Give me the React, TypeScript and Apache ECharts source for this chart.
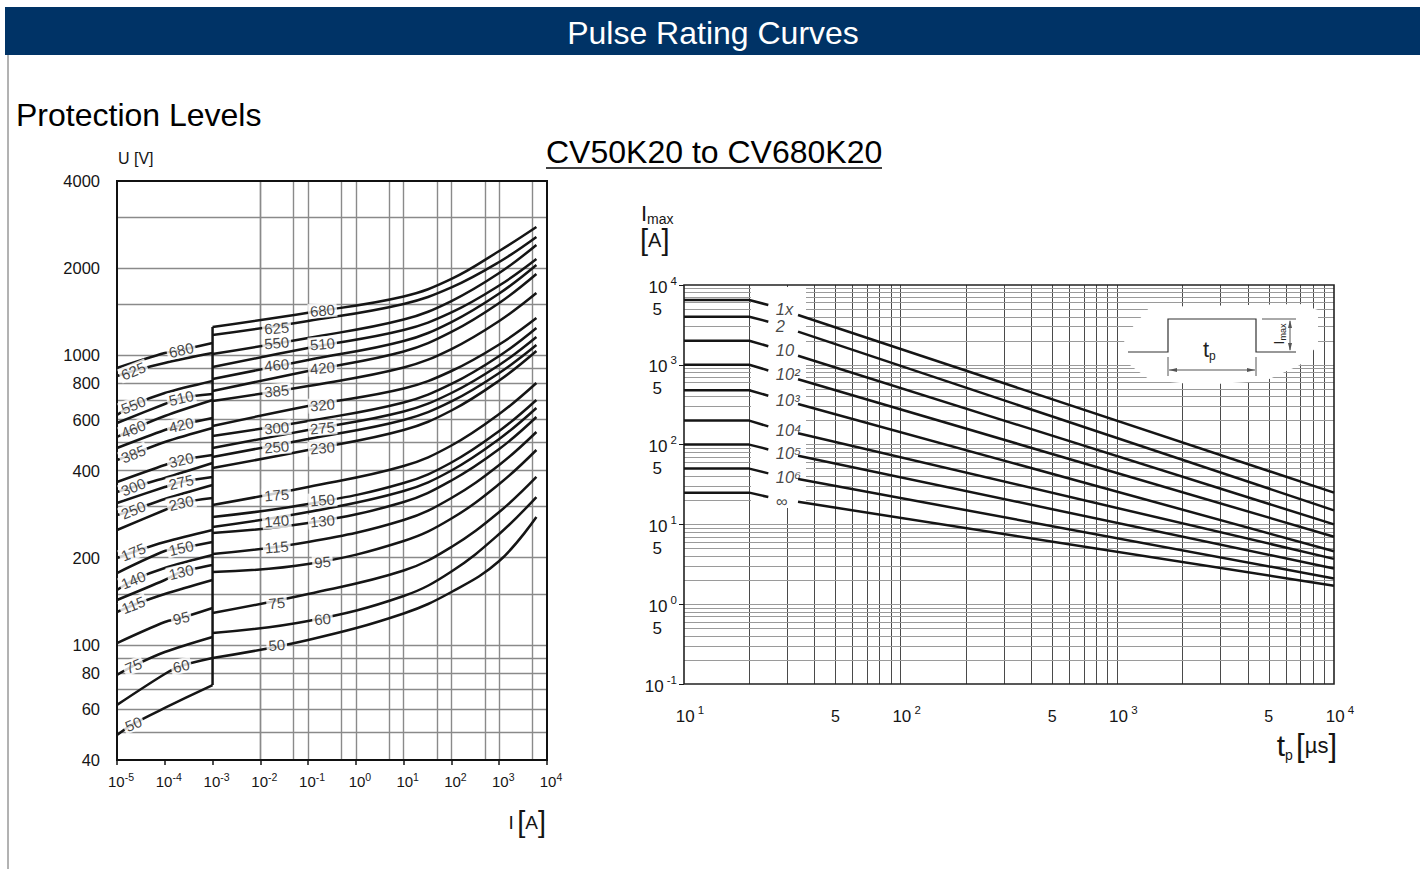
import React, { useEffect, useRef } from "react";
import * as echarts from "echarts";

const FONT = "'Liberation Sans', Arial, sans-serif";
const INK = "#151515";

// ---------------- Left chart: protection levels ----------------
const currentExponents = ["-5", "-4", "-3", "-2", "-1", "0", "1", "2", "3", "4"];
const currentGridLines = [5e-5, 1e-4, 5e-4, 1e-3, 5e-3, 1e-2, 5e-2, 1e-1, 5e-1, 1, 5, 10, 50, 100, 500, 1000, 5000];
const voltageGridLines = [50, 60, 70, 80, 90, 100, 150, 200, 300, 400, 500, 600, 700, 800, 900, 1000, 1500, 2000, 3000];
const voltageTickLabels = [40, 60, 80, 100, 200, 400, 600, 800, 1000, 2000, 4000];

const varistorTypes = ["680", "625", "550", "510", "460", "420", "385", "320", "300", "275", "250", "230", "175", "150", "140", "130", "115", "95", "75", "60", "50"];

// leakage region (10 µA .. 1 mA)
const leakCurrents = [1e-5, 1e-4, 1e-3];
const leakV_10uA = [904, 848, 622, 583.6, 522.1, 478.4, 434.8, 365.0, 337.1, 308.8, 280.7, 249.2, 199.4, 177.0, 154.6, 142.8, 129.8, 101.4, 78.7, 62.0, 48.8];
const leakV_100uA = [1018, 941, 740.9, 678.8, 617.0, 552.0, 501.8, 417.9, 376.8, 350.8, 318.8, 292.1, 226.5, 210.8, 184.2, 167.4, 149.8, 119.9, 94.4, 79.3, 60.5];
const leakV_1mA = [1103, 1018, 815.1, 735.0, 700.8, 607.3, 560.9, 452.5, 424.6, 379.9, 356.4, 321.4, 249.2, 226.5, 204.2, 188.6, 167.4, 134.0, 106.4, 90.0, 72.6];
const leakLabelCurrent = [2.2e-4, 2.2e-5, 2.2e-5, 2.2e-4, 2.2e-5, 2.2e-4, 2.2e-5, 2.2e-4, 2.2e-5, 2.2e-4, 2.2e-5, 2.2e-4, 2.2e-5, 2.2e-4, 2.2e-5, 2.2e-4, 2.2e-5, 2.2e-4, 2.2e-5, 2.2e-4, 2.2e-5];
const leakLabelVoltage = [1043, 882.6, 673.5, 712, 556.4, 574.4, 456.1, 434.8, 350.8, 365, 292.1, 308.8, 209.2, 215.9, 167.4, 178.4, 137.2, 123.8, 84.5, 84.5, 53.3];

// pulse region (1 mA .. 6 kA)
const pulseCurrents = [1e-3, 0.1, 10, 100, 1000, 6000];
const pulseV_1mA = [1252, 1175, 1010, 911.1, 828.2, 752.8, 695.2, 569.9, 526.3, 478.4, 445.3, 408.0, 304.0, 276.3, 255.2, 243.3, 205.9, 178.4, 128.8, 109.8, 90.0];
const pulseV_100mA = [1403, 1314, 1148, 1060, 963.3, 882.6, 783.3, 668.1, 593.0, 552.0, 513.9, 470.8, 350.8, 306.4, 287.5, 263.4, 226.5, 190.1, 149.8, 120.8, 103.9];
const pulseV_10A = [1596, 1504, 1329, 1223, 1120, 1031, 907.5, 767.9, 687.0, 639.5, 597.7, 552.0, 414.6, 362.1, 339.8, 311.3, 269.8, 228.3, 180.5, 147.4, 128.3];
const pulseV_100A = [1835, 1715, 1540, 1406, 1303, 1204, 1051, 882.6, 795.9, 740.9, 692.5, 644.6, 488.0, 426.3, 400.0, 369.4, 321.4, 273.0, 217.7, 179.1, 152.2];
const pulseV_1kA = [2292, 2100, 1924, 1742, 1635, 1516, 1314, 1090, 994.4, 925.7, 868.7, 818.3, 626.9, 547.7, 513.9, 474.6, 417.9, 359.2, 287.5, 241.4, 194.7];
const pulseV_6kA = [2774, 2562, 2404, 2151, 2051, 1909, 1641, 1345, 1243, 1157, 1085, 1035, 802.2, 700.8, 657.6, 612.2, 543.3, 470.8, 379.9, 323.9, 276.3];
const pulseLabelCurrent = [0.2, 0.022, 0.022, 0.2, 0.022, 0.2, 0.022, 0.2, 0.022, 0.2, 0.022, 0.2, 0.022, 0.2, 0.022, 0.2, 0.022, 0.2, 0.022, 0.2, 0.022];
const pulseLabelVoltage = [1430, 1242, 1103, 1094, 925.7, 904, 752.8, 673.5, 560.9, 560.9, 482.2, 478.4, 329.1, 316.3, 267.7, 267.7, 217.7, 193.2, 139.4, 122.8, 99.8];

const stepCurrent = 1e-3;
const stepVoltages = [72.6, 1252];

// ---------------- Right chart: pulse rating ----------------
const timeExponents = ["1", "2", "3", "4"];
const imaxExponents = ["-1", "0", "1", "2", "3", "4"];
const timeFiveTicks = [50, 500, 5000];
const imaxFiveTicks = [0.5, 5, 50, 500, 5000];
const gridMultipliers = [1, 2, 3, 4, 5, 6, 7, 8, 9];
const timeDecades = [10, 100, 1000];
const imaxDecades = [0.1, 1, 10, 100, 1000];

const repetitions = ["1x", "2", "10", "10²", "10³", "10⁴", "10⁵", "10⁶", "∞"];
const flatTimes = [10, 20, 24.5];
const slopeTimes = [33.6, 10000];
const imaxFlat = [6500, 4000, 2000, 1000, 480, 200, 100, 50, 25];
const imaxAt24us = [5610, 3470, 1710, 850, 410, 169, 87, 43.6, 22];
const imaxAt34us = [4210, 2600, 1300, 658, 323, 139, 72.6, 37.1, 19.2];
const imaxAt10ms = [25, 15, 10, 7, 4.6, 3.7, 2.8, 2.1, 1.7];

function buildOption(): any {
  const leftRich = {
    b: { fontSize: 15, fontFamily: FONT, color: INK, lineHeight: 18, verticalAlign: "bottom" },
    e: { fontSize: 10.5, fontFamily: FONT, color: INK, lineHeight: 11, verticalAlign: "top" },
  };
  const rightRich = {
    b: { fontSize: 17, fontFamily: FONT, color: INK, lineHeight: 21, verticalAlign: "bottom" },
    e: { fontSize: 11.5, fontFamily: FONT, color: INK, lineHeight: 12, verticalAlign: "top" },
  };

  const series: any[] = [];

  // ---- left grid lines + y labels ----
  const leftMarks: any[] = [];
  currentGridLines.forEach((v) => leftMarks.push({ xAxis: v }));
  voltageGridLines.forEach((v) => leftMarks.push({ yAxis: v }));
  voltageTickLabels.forEach((v) =>
    leftMarks.push({
      yAxis: v,
      lineStyle: { color: "rgba(0,0,0,0)" },
      label: { show: true, position: "start", distance: 17, formatter: String(v), fontSize: 16.5, fontFamily: FONT, color: INK },
    })
  );
  series.push({
    type: "line",
    xAxisIndex: 0,
    yAxisIndex: 0,
    data: [[1, 100]],
    symbol: "none",
    lineStyle: { opacity: 0 },
    silent: true,
    z: 1,
    markLine: {
      silent: true,
      animation: false,
      symbol: ["none", "none"],
      label: { show: false },
      emphasis: { disabled: true },
      lineStyle: { color: "#8a8a8a", width: 1.4, type: "solid" },
      data: leftMarks,
    },
  });

  // ---- left curves ----
  const curveStyle = { color: INK, width: 2.5 };
  varistorTypes.forEach((name, i) => {
    const leak = [
      [leakCurrents[0], leakV_10uA[i]],
      [leakCurrents[1], leakV_100uA[i]],
      [leakCurrents[2], leakV_1mA[i]],
      [leakLabelCurrent[i], leakLabelVoltage[i]],
    ].sort((a, b) => a[0] - b[0]);
    const pulse = [
      [pulseCurrents[0], pulseV_1mA[i]],
      [pulseCurrents[1], pulseV_100mA[i]],
      [pulseCurrents[2], pulseV_10A[i]],
      [pulseCurrents[3], pulseV_100A[i]],
      [pulseCurrents[4], pulseV_1kA[i]],
      [pulseCurrents[5], pulseV_6kA[i]],
    ];
    [leak, pulse].forEach((d, k) =>
      series.push({
        type: "line",
        name: name + (k ? " pulse" : " leak"),
        xAxisIndex: 0,
        yAxisIndex: 0,
        data: d,
        smooth: k ? 0.4 : 0.3,
        showSymbol: false,
        symbol: "none",
        lineStyle: curveStyle,
        silent: true,
        z: 10,
      })
    );
  });
  series.push({
    type: "line",
    xAxisIndex: 0,
    yAxisIndex: 0,
    data: stepVoltages.map((v) => [stepCurrent, v]),
    showSymbol: false,
    symbol: "none",
    lineStyle: curveStyle,
    silent: true,
    z: 10,
  });

  const labelData: any[] = [];
  varistorTypes.forEach((name, i) => {
    labelData.push({
      value: [leakLabelCurrent[i], leakLabelVoltage[i]],
      label: { formatter: name, rotate: leakLabelCurrent[i] < 1e-4 ? 22 : 13 },
    });
    labelData.push({
      value: [pulseLabelCurrent[i], pulseLabelVoltage[i]],
      label: { formatter: name, rotate: 5 },
    });
  });
  series.push({
    type: "scatter",
    xAxisIndex: 0,
    yAxisIndex: 0,
    data: labelData,
    symbolSize: 1,
    itemStyle: { color: "rgba(0,0,0,0)" },
    silent: true,
    z: 12,
    label: {
      show: true,
      position: "inside",
      fontSize: 15,
      fontFamily: FONT,
      color: INK,
      backgroundColor: "#fff",
      padding: [0, 2],
    },
  });

  // ---- right grid lines ----
  const rightMarks: any[] = [];
  timeDecades.forEach((d) =>
    gridMultipliers.forEach((m) => {
      if (d * m > 10) rightMarks.push({ xAxis: d * m, lineStyle: { color: "#4a4a4a", width: 1 } });
    })
  );
  imaxDecades.forEach((d) =>
    gridMultipliers.forEach((m) => {
      if (d * m > 0.1) rightMarks.push({ yAxis: d * m, lineStyle: { color: "#9a9a9a", width: 1 } });
    })
  );
  imaxFiveTicks.forEach((v) =>
    rightMarks.push({
      yAxis: v,
      lineStyle: { color: "rgba(0,0,0,0)" },
      label: { show: true, position: "start", distance: 22, formatter: "5", fontSize: 17, fontFamily: FONT, color: INK, padding: [6, 0, 0, 0] },
    })
  );
  timeFiveTicks.forEach((v) =>
    rightMarks.push({
      xAxis: v,
      lineStyle: { color: "rgba(0,0,0,0)" },
      label: { show: true, position: "start", distance: 24, formatter: "5", fontSize: 16, fontFamily: FONT, color: INK, align: "center", verticalAlign: "top" },
    })
  );
  series.push({
    type: "line",
    xAxisIndex: 1,
    yAxisIndex: 1,
    data: [[100, 1]],
    symbol: "none",
    lineStyle: { opacity: 0 },
    silent: true,
    z: 1,
    markLine: {
      silent: true,
      animation: false,
      symbol: ["none", "none"],
      label: { show: false },
      emphasis: { disabled: true },
      lineStyle: { type: "solid" },
      data: rightMarks,
    },
  });

  repetitions.forEach((name, i) => {
    series.push({
      type: "line",
      name: name + " flat",
      xAxisIndex: 1,
      yAxisIndex: 1,
      data: [
        [flatTimes[0], imaxFlat[i]],
        [flatTimes[1], imaxFlat[i]],
        [flatTimes[2], imaxAt24us[i]],
      ],
      showSymbol: false,
      symbol: "none",
      lineStyle: curveStyle,
      silent: true,
      z: 10,
    });
    series.push({
      type: "line",
      name: name + " slope",
      xAxisIndex: 1,
      yAxisIndex: 1,
      data: [
        [slopeTimes[0], imaxAt34us[i]],
        [slopeTimes[1], imaxAt10ms[i]],
      ],
      showSymbol: false,
      symbol: "none",
      lineStyle: curveStyle,
      silent: true,
      z: 10,
    });
  });
  series.push({
    type: "scatter",
    xAxisIndex: 1,
    yAxisIndex: 1,
    data: repetitions.map((name, i) => ({ value: [flatTimes[2], imaxAt24us[i]], label: { formatter: name } })),
    symbolSize: 1,
    itemStyle: { color: "rgba(0,0,0,0)" },
    silent: true,
    z: 12,
    label: {
      show: true,
      position: "right",
      distance: 7,
      offset: [0, 4],
      fontSize: 16.5,
      fontStyle: "italic",
      fontFamily: FONT,
      color: INK,
    },
  });

  const hidden = { axisLine: { show: false }, splitLine: { show: false } };

  const graphic: any[] = [
    { type: "rect", shape: { x: 5, y: 7, width: 1415, height: 48 }, style: { fill: "#003366" }, z: 0 },
    { type: "text", x: 713, y: 33, style: { text: "Pulse Rating Curves", fill: "#fff", fontSize: 32, fontFamily: FONT, align: "center", verticalAlign: "middle" } },
    { type: "line", shape: { x1: 8, y1: 55, x2: 8, y2: 869 }, style: { stroke: "#666", lineWidth: 1 } },
    { type: "text", x: 16, y: 115, style: { text: "Protection Levels", fill: "#000", fontSize: 32, fontFamily: FONT, verticalAlign: "middle" } },
    { type: "text", x: 546, y: 152, style: { text: "CV50K20 to CV680K20", fill: "#000", fontSize: 32, fontFamily: FONT, verticalAlign: "middle" } },
    { type: "line", shape: { x1: 546, y1: 168, x2: 882, y2: 168 }, style: { stroke: "#000", lineWidth: 1.6 } },
    // left axis titles
    { type: "text", x: 118, y: 158, style: { text: "U [V]", fill: INK, fontSize: 16, fontFamily: FONT, verticalAlign: "middle" } },
    {
      type: "text", x: 546, y: 822,
      style: {
        text: "{s|I} {br|[}{s|A}{br|]}", align: "right", verticalAlign: "middle",
        rich: {
          s: { fontSize: 19, fontFamily: FONT, fill: INK, lineHeight: 30 },
          br: { fontSize: 29, fontFamily: FONT, fill: INK, lineHeight: 30, fontWeight: "lighter" },
        },
      },
    },
    // right axis titles
    {
      type: "text", x: 641, y: 213,
      style: {
        text: "{i|I}{m|max}", verticalAlign: "middle",
        rich: {
          i: { fontSize: 22, fontFamily: FONT, fill: INK, lineHeight: 26 },
          m: { fontSize: 14, fontFamily: FONT, fill: INK, lineHeight: 14, verticalAlign: "bottom" },
        },
      },
    },
    {
      type: "text", x: 640, y: 240,
      style: {
        text: "{br|[}{s|A}{br|]}", verticalAlign: "middle",
        rich: {
          s: { fontSize: 20, fontFamily: FONT, fill: INK, lineHeight: 30 },
          br: { fontSize: 29, fontFamily: FONT, fill: INK, lineHeight: 30, fontWeight: "lighter" },
        },
      },
    },
    {
      type: "text", x: 1337, y: 745,
      style: {
        text: "{t|t}{p|p} {br|[}{s|µs}{br|]}", align: "right", verticalAlign: "middle",
        rich: {
          t: { fontSize: 30, fontFamily: FONT, fill: INK, lineHeight: 34 },
          p: { fontSize: 14, fontFamily: FONT, fill: INK, lineHeight: 14, verticalAlign: "bottom" },
          s: { fontSize: 22, fontFamily: FONT, fill: INK, lineHeight: 34 },
          br: { fontSize: 31, fontFamily: FONT, fill: INK, lineHeight: 34, fontWeight: "lighter" },
        },
      },
    },
    // white areas in the right chart
    { type: "rect", shape: { x: 751, y: 287, width: 55, height: 221 }, style: { fill: "#fff" }, z: 7 },
    {
      type: "polygon",
      shape: { points: [[1150, 307], [1300, 304], [1318, 310], [1318, 345], [1300, 365], [1265, 381], [1200, 385], [1150, 380], [1126, 362], [1120, 350], [1130, 330]] },
      style: { fill: "#fff" },
      z: 7,
    },
    // pulse inset
    { type: "polyline", shape: { points: [[1128, 352], [1168, 352], [1168, 319], [1256, 319], [1256, 352], [1296, 352]] }, style: { stroke: "#333", lineWidth: 1.2, fill: null }, z: 8 },
    { type: "line", shape: { x1: 1262, y1: 319, x2: 1296, y2: 319 }, style: { stroke: "#555", lineWidth: 1 }, z: 8 },
    { type: "line", shape: { x1: 1290, y1: 321, x2: 1290, y2: 350 }, style: { stroke: "#555", lineWidth: 1 }, z: 8 },
    { type: "polygon", shape: { points: [[1290, 320], [1288, 328], [1292, 328]] }, style: { fill: "#555" }, z: 8 },
    { type: "polygon", shape: { points: [[1290, 351], [1288, 343], [1292, 343]] }, style: { fill: "#555" }, z: 8 },
    { type: "line", shape: { x1: 1168, y1: 357, x2: 1168, y2: 376 }, style: { stroke: "#555", lineWidth: 1 }, z: 8 },
    { type: "line", shape: { x1: 1256, y1: 357, x2: 1256, y2: 376 }, style: { stroke: "#555", lineWidth: 1 }, z: 8 },
    { type: "line", shape: { x1: 1169, y1: 370, x2: 1255, y2: 370 }, style: { stroke: "#555", lineWidth: 1 }, z: 8 },
    { type: "polygon", shape: { points: [[1169, 370], [1177, 368], [1177, 372]] }, style: { fill: "#555" }, z: 8 },
    { type: "polygon", shape: { points: [[1255, 370], [1247, 368], [1247, 372]] }, style: { fill: "#555" }, z: 8 },
    {
      type: "text", x: 1203, y: 349, z: 8,
      style: {
        text: "{t|t}{p|p}", verticalAlign: "middle",
        rich: {
          t: { fontSize: 22, fontFamily: FONT, fill: "#222", lineHeight: 26 },
          p: { fontSize: 12, fontFamily: FONT, fill: "#222", lineHeight: 12, verticalAlign: "bottom" },
        },
      },
    },
    {
      type: "text", x: 1279, y: 334, rotation: Math.PI / 2, z: 8,
      style: {
        text: "{i|I}{m|max}", align: "center", verticalAlign: "middle",
        rich: {
          i: { fontSize: 14, fontFamily: FONT, fill: "#222", lineHeight: 16 },
          m: { fontSize: 9, fontFamily: FONT, fill: "#222", lineHeight: 9, verticalAlign: "bottom" },
        },
      },
    },
  ];

  return {
    animation: false,
    backgroundColor: "#fff",
    grid: [
      { left: 117, top: 181, width: 430, height: 579, show: true, z: 6, borderColor: "#111", borderWidth: 2, backgroundColor: "transparent", containLabel: false },
      { left: 684, top: 285, width: 650, height: 399, show: true, z: 6, borderColor: "#222", borderWidth: 1.6, backgroundColor: "transparent", containLabel: false },
    ],
    xAxis: [
      {
        type: "log", gridIndex: 0, logBase: 10, min: 1e-5, max: 1e4, splitNumber: 9, ...hidden,
        axisTick: { show: true, length: 5, lineStyle: { color: INK, width: 1.5 } },
        axisLabel: {
          show: true, margin: 11, padding: [0, 0, 0, 8],
          formatter: (v: number) => "{b|10}{e|" + currentExponents[Math.round(Math.log10(v)) + 5] + "}",
          rich: leftRich,
        },
      },
      {
        type: "log", gridIndex: 1, logBase: 10, min: 10, max: 1e4, splitNumber: 3, ...hidden,
        axisTick: { show: false },
        axisLabel: {
          show: true, margin: 20, padding: [0, 0, 0, 12],
          formatter: (v: number) => "{b|10}{e| " + timeExponents[Math.round(Math.log10(v)) - 1] + "}",
          rich: rightRich,
        },
      },
    ],
    yAxis: [
      { type: "log", gridIndex: 0, logBase: 10, min: 40, max: 4000, ...hidden, axisTick: { show: false }, axisLabel: { show: false } },
      {
        type: "log", gridIndex: 1, logBase: 10, min: 0.1, max: 1e4, splitNumber: 5, ...hidden,
        axisTick: { show: true, length: 5, lineStyle: { color: INK, width: 1 } },
        axisLabel: {
          show: true, margin: 7,
          formatter: (v: number) => "{b|10}{e| " + imaxExponents[Math.round(Math.log10(v)) + 1] + "}",
          rich: rightRich,
        },
      },
    ],
    series,
    graphic: { elements: graphic },
  };
}

export default function App() {
  const ref = useRef<HTMLDivElement>(null);
  useEffect(() => {
    const chart = echarts.init(ref.current as HTMLDivElement, null, { renderer: "svg" });
    chart.setOption(buildOption());
    return () => chart.dispose();
  }, []);
  return (
    <div
      ref={ref}
      style={{ position: "fixed", left: 0, top: 0, width: 1420, height: 869, background: "#fff" }}
    />
  );
}
